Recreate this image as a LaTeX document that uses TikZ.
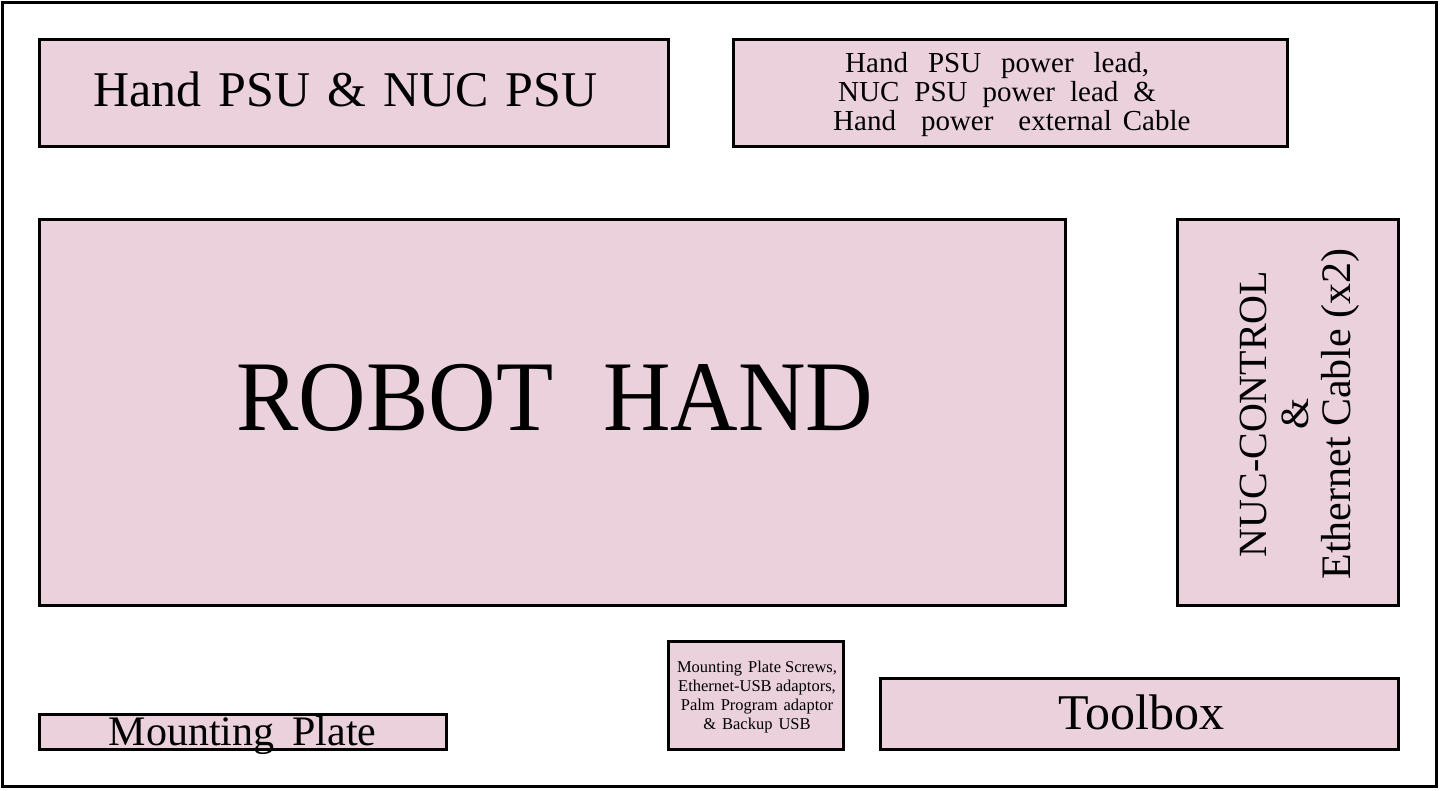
\documentclass[tikz,border=0pt]{standalone}
\usepackage{fontspec}
\setmainfont{Liberation Serif}
\definecolor{boxfill}{HTML}{EAD1DC}
\newcommand\wgap[1]{\hspace{#1pt}}
\begin{document}
\begin{tikzpicture}[x=1pt,y=-1pt,
  box/.style={draw=black,line width=3pt,fill=boxfill},
  lbl/.style={inner sep=0pt,text=black}]
\useasboundingbox (0,0) rectangle (1440,790);
\draw[line width=3pt] (2,2) rectangle (1436,786);
% boxes
\draw[box] (39,39) rectangle (668,146);
\draw[box] (733,39) rectangle (1287,146);
\draw[box] (39,219) rectangle (1065,605);
\draw[box] (1177,219) rectangle (1398,605);
\draw[box] (668,641) rectangle (843,749);
\draw[box] (880,678) rectangle (1398,749);
\draw[box] (39,714) rectangle (446,749);
% labels
\node[lbl,anchor=base,font=\fontsize{50}{60}\selectfont] (psu) at (345.5,106)
  {Hand\wgap{17}PSU\wgap{17}\&\wgap{17}NUC\wgap{17}PSU};
\node[lbl,align=left,anchor=west,font=\fontsize{29}{29}\selectfont] (lead) at (833,95)
  {\hspace*{12pt}Hand\wgap{20}PSU\wgap{20}power\wgap{20}lead,\\
   \hspace*{5pt}NUC\wgap{15}PSU\wgap{15}power\wgap{15}lead\wgap{15}\&\\
   Hand\wgap{25}power\wgap{25}external\wgap{11}Cable};
\node[lbl,anchor=base,font=\fontsize{100}{110}\selectfont\addfontfeature{FakeStretch=0.935}] (hand) at (555,430)
  {ROBOT\wgap{50}HAND};
\node[lbl,align=center,rotate=90,font=\fontsize{40}{42}\selectfont] (nuc) at (1300,414)
  {NUC-CONTROL\\\&\\{\fontsize{42}{42}\selectfont Ethernet Cable (x2)}};
\node[lbl,align=center,font=\fontsize{16.5}{19.2}\selectfont] (misc) at (757,697)
  {Mounting\wgap{6}Plate Screws,\\Ethernet-USB adaptors,\\Palm\wgap{6}Program\wgap{6}adaptor\hspace*{4pt}\\\&\wgap{6}Backup\wgap{6}USB};
\node[lbl,anchor=base,font=\fontsize{50}{50}\selectfont] (tool) at (1141.5,729.5) {Toolbox};
\node[lbl,anchor=base,font=\fontsize{42}{42}\selectfont] (mount) at (242.5,745) {Mounting\wgap{18}Plate};
\end{tikzpicture}
\end{document}
